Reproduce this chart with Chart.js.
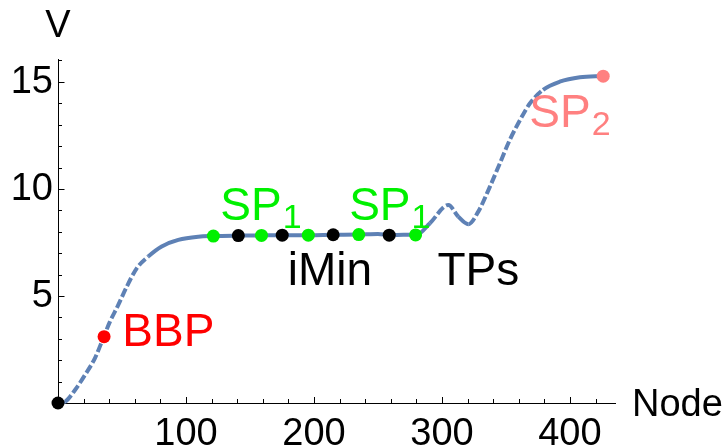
<!DOCTYPE html>
<html>
<head>
<meta charset="utf-8">
<script src="https://cdn.jsdelivr.net/npm/chart.js@4"></script>
<style>
  html, body { margin: 0; padding: 0; background: #fff; }
  #wrap { width: 728px; height: 448px; }
</style>
</head>
<body>
<div id="wrap"><canvas id="myChart" width="728" height="448"></canvas></div>
<script>
// curve
var curveNodes = [0, 5.5, 13.3, 21.1, 28.9, 35.4, 40.6, 47.1, 53.7, 61.5, 70.5, 81, 94, 109.6, 121.3,
    141, 159, 175, 196, 215, 235, 250, 259, 270, 280, 290.6, 305, 312.7, 320.6, 328.4, 337.5,
    345.3, 353, 361, 368.8, 379, 392, 407.8, 426];
var curveV = [0, 0.06, 0.61, 1.31, 2.10, 3.04, 3.80, 4.58, 5.43, 6.29, 6.84, 7.31, 7.62, 7.77, 7.80,
    7.82, 7.83, 7.84, 7.84, 7.86, 7.87, 7.90, 7.84, 7.86, 7.85, 8.40, 9.25, 8.71, 8.35, 8.94, 10.11,
    11.2, 12.29, 13.22, 14.0, 14.63, 15.01, 15.22, 15.28];

// marked points
var originNode = [0], originV = [0];
var bbpNode = [36], bbpV = [3.1];
var sp1Nodes = [121.4, 159, 195.6, 235, 279.4];
var sp1V = [7.80, 7.83, 7.84, 7.87, 7.85];
var iminNodes = [140.9, 175.2, 215, 258.8];
var iminV = [7.82, 7.84, 7.86, 7.84];
var sp2Node = [426], sp2V = [15.27];

// axis ticks
var xTicks = [100, 200, 300, 400];
var yTicks = [5, 10, 15];

function pts(xs, ys) {
    return xs.map(function(x, i) { return { x: x, y: ys[i] }; });
}

var font = "'Liberation Sans', Arial, sans-serif";
var lineColor = "#5e81b5";

function dot(data, color) {
    return {
        data: data,
        showLine: false,
        pointRadius: 6.5,
        pointBackgroundColor: color,
        pointBorderWidth: 0,
        clip: false
    };
}

// axes with inward ticks, Mathematica style
var axesPlugin = {
    id: "axes",
    beforeDatasetsDraw: function(chart) {
        var c = chart.ctx, xs = chart.scales.x, ys = chart.scales.y;
        var a = chart.chartArea;
        c.save();
        c.strokeStyle = "#000";
        c.lineWidth = 1;
        c.beginPath();
        c.moveTo(a.left, a.bottom + 0.5); c.lineTo(a.right, a.bottom + 0.5);
        c.moveTo(a.left + 0.5, a.bottom); c.lineTo(a.left + 0.5, a.top);
        for (var v = 20; v <= 436; v += 20) {
            var px = Math.round(xs.getPixelForValue(v)) + 0.5;
            var len = v % 100 === 0 ? 6 : 4;
            c.moveTo(px, a.bottom); c.lineTo(px, a.bottom - len);
        }
        for (var w = 1; w <= 16; w++) {
            var py = Math.round(ys.getPixelForValue(w)) + 0.5;
            var l2 = w % 5 === 0 ? 6.5 : 4;
            c.moveTo(a.left, py); c.lineTo(a.left + l2, py);
        }
        c.stroke();

        c.fillStyle = "#000";
        c.font = "38px " + font;
        c.textAlign = "center";
        c.textBaseline = "alphabetic";
        xTicks.forEach(function(t) {
            c.fillText(String(t), xs.getPixelForValue(t), 445);
        });
        c.textAlign = "right";
        c.textBaseline = "middle";
        yTicks.forEach(function(t) {
            c.fillText(String(t), a.left - 5, ys.getPixelForValue(t) + 1);
        });
        c.textAlign = "center";
        c.textBaseline = "alphabetic";
        c.fillText("V", a.left, 37);
        c.textAlign = "left";
        c.fillText("Node", 632, 416);
        c.restore();
    },
    afterDraw: function(chart) {
        var c = chart.ctx, xs = chart.scales.x, ys = chart.scales.y;
        function label(text, sub, node, v, color) {
            var x = xs.getPixelForValue(node), y = ys.getPixelForValue(v);
            c.fillStyle = color;
            c.font = "46px " + font;
            c.fillText(text, x, y);
            if (sub) {
                var w = c.measureText(text).width;
                c.font = "34px " + font;
                c.fillText(sub, x + w + 1, y + 8);
            }
        }
        c.save();
        c.textAlign = "left";
        c.textBaseline = "alphabetic";
        label("BBP", "", 50.3, 2.65, "#ff0000");
        label("SP", "1", 126.8, 8.55, "#00f000");
        label("SP", "1", 227.5, 8.55, "#00f000");
        label("iMin", "", 179.5, 5.5, "#000");
        label("TPs", "", 296.5, 5.5, "#000");
        label("SP", "2", 368.3, 12.9, "#ff8080");
        c.restore();
    }
};

var ctx = document.getElementById("myChart").getContext("2d");
new Chart(ctx, {
    type: "scatter",
    data: {
        datasets: [
            dot(pts(originNode, originV), "#000"),
            dot(pts(bbpNode, bbpV), "#ff0000"),
            dot(pts(sp1Nodes, sp1V), "#00f000"),
            dot(pts(iminNodes, iminV), "#000"),
            dot(pts(sp2Node, sp2V), "#ff8080"),
            {
                data: pts(curveNodes, curveV),
                showLine: true,
                pointRadius: 0,
                borderColor: lineColor,
                borderWidth: 4,
                cubicInterpolationMode: "monotone",
                segment: {
                    // steep parts look dashed in the original
                    borderDash: function(s) {
                        var dx = s.p1.x - s.p0.x, dy = s.p1.y - s.p0.y;
                        return Math.abs(dy) > 0.9 * Math.abs(dx) ? [9, 3] : undefined;
                    }
                },
                clip: false
            }
        ]
    },
    options: {
        responsive: false,
        animation: false,
        layout: { padding: { left: 58, right: 112, top: 59, bottom: 45 } },
        plugins: { legend: { display: false }, tooltip: { enabled: false } },
        scales: {
            x: { type: "linear", min: 0, max: 436, display: false },
            y: { type: "linear", min: 0, max: 16.07, display: false }
        }
    },
    plugins: [axesPlugin]
});
</script>
</body>
</html>
